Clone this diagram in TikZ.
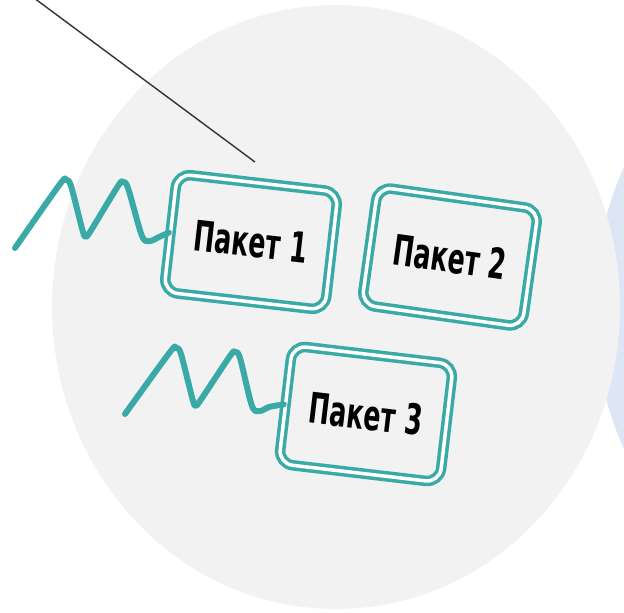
\documentclass[tikz,border=0pt]{standalone}
\usepackage{fontspec}
\usepackage[HTML]{xcolor}
\usepackage{tikz}
\usetikzlibrary{positioning, arrows, arrows.meta}
\newfontfamily\pkfont[FakeStretch=0.6]{DejaVu Sans}
\definecolor{pkteal}{HTML}{3AAAA8}
\definecolor{bggray}{HTML}{F2F2F2}
\definecolor{bgblue}{HTML}{DCE6F4}
\tikzset{
    pkbox/.style={draw=pkteal, double=white, double distance=1pt, line width=1pt,
        fill=bggray, rounded corners=0.14cm, minimum width=1.62cm, minimum height=1.19cm,
        inner sep=0pt, font=\pkfont\bfseries\fontsize{12}{13}\selectfont},
    wave/.style={pkteal, line width=1.7pt, line cap=round, line join=round}
}
\begin{document}
\begin{tikzpicture}[scale=1.0]
\useasboundingbox (0,0) rectangle (6.24,-6.12);
\clip (0,0) rectangle (6.24,-6.12);
% Background discs
\fill[bgblue] (9.40,-3.08) circle (3.46);
\fill[bggray] (3.36,-3.07) ellipse (2.84 and 3.02);

% Packets
\node[pkbox, rotate=-6.5] (b1) at (2.51,-2.42) {Пакет 1};
\node[pkbox, rotate=-8] (b2) at (4.50,-2.57) {Пакет 2};
\node[pkbox, rotate=-6.7] (b3) at (3.66,-4.14) {Пакет 3};

% Pointer line
\coordinate (ptop) at (0.34,0.02);
\coordinate (ptip) at (2.55,-1.62);
\draw[black!80, line width=0.4pt] (ptop) -- (ptip);

% Waves into packets 1 and 3
\draw[wave] plot[smooth, tension=0.5] coordinates {(0.15,-2.48) (0.60,-1.84) (0.66,-1.80) (0.71,-1.86)
    (0.83,-2.32) (0.86,-2.36) (0.90,-2.32) (1.18,-1.86) (1.23,-1.82) (1.28,-1.88)
    (1.42,-2.36) (1.50,-2.41) (1.59,-2.37) (b1.west)};
\draw[wave] plot[smooth, tension=0.5] coordinates {(1.25,-4.14) (1.70,-3.52) (1.76,-3.48) (1.81,-3.54)
    (1.93,-4.01) (1.96,-4.05) (2.00,-4.01) (2.30,-3.56) (2.35,-3.52) (2.40,-3.58)
    (2.52,-4.06) (2.60,-4.11) (2.69,-4.07) (b3.west)};

\end{tikzpicture}
\end{document}
